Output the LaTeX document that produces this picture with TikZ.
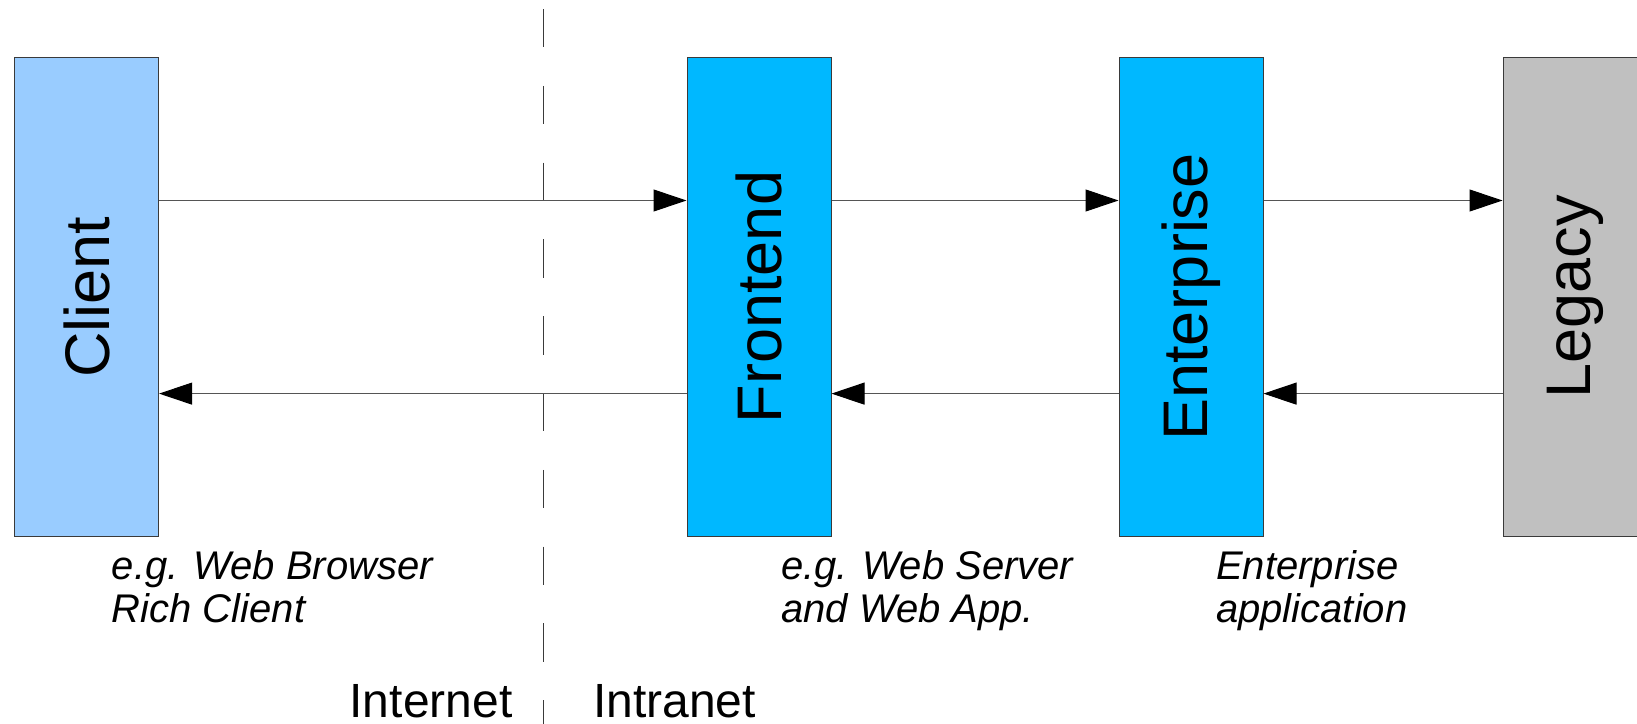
\documentclass[tikz,border=0pt]{standalone}
\usepackage{fontspec}
\setmainfont{Liberation Sans}
\usetikzlibrary{arrows.meta}
\definecolor{clientblue}{HTML}{99CCFF}
\definecolor{tierblue}{HTML}{00B8FF}
\definecolor{legacygray}{HTML}{C0C0C0}
\definecolor{edge}{HTML}{3A3A3A}
\definecolor{wire}{HTML}{555555}
\begin{document}
\begin{tikzpicture}[x=1pt,y=-1pt,
  tier/.style={draw=edge,line width=1pt,minimum width=144pt,minimum height=479pt,inner sep=0pt,anchor=center},
  tiername/.style={rotate=90,font=\fontsize{63}{63}\selectfont,inner sep=0pt},
  note/.style={font=\fontsize{40}{43}\selectfont\itshape,align=left,inner sep=0pt,anchor=base west},
  zone/.style={font=\fontsize{48}{48}\selectfont,inner sep=0pt},
  flow/.style={draw=wire,line width=1pt,-{Triangle[length=33pt,width=22pt,color=black]}},
  divider/.style={draw=edge,line width=1pt,dash pattern=on 38.4pt off 38.4pt}]
  \useasboundingbox (0,0) rectangle (1637,723);
  \clip (0,0) rectangle (1637,723);

  % network boundary
  \coordinate (splittop) at (543,9);
  \coordinate (splitbot) at (543,725);
  \draw[divider] (splittop) -- (splitbot);

  % tiers
  \node[tier,fill=clientblue] (client) at (86.6,297) {};
  \node[tier,fill=tierblue]   (front)  at (759,297) {};
  \node[tier,fill=tierblue]   (ent)    at (1191,297) {};
  \node[tier,fill=legacygray] (legacy) at (1575,297) {};

  \node[tiername] (clientname) at (client.center) {Client};
  \node[tiername] (frontname)  at (front.center)  {Frontend};
  \node[tiername] (entname)    at (ent.center)    {Enterprise};
  \node[tiername] (legacyname) at (legacy.center) {Legacy};

  % request / response rows
  \coordinate (req)  at (0,200.5);
  \coordinate (resp) at (0,393.6);
  \draw[flow] (client.east |- req)  -- (front.west |- req);
  \draw[flow] (front.east |- req)   -- (ent.west |- req);
  \draw[flow] (ent.east |- req)     -- (legacy.west |- req);
  \draw[flow] (legacy.west |- resp) -- (ent.east |- resp);
  \draw[flow] (ent.west |- resp)    -- (front.east |- resp);
  \draw[flow] (front.west |- resp)  -- (client.east |- resp);

  % notes (anchored on the baseline of their second line)
  \node[note] (clientnote) at (111.7,622) {e.g. Web Browser\\Rich Client};
  \node[note] (frontnote)  at (781,622)   {e.g. Web Server\\and Web App.};
  \node[note] (entnote)    at (1216,622)  {Enterprise\\application};

  % zones
  \node[zone,anchor=base east] (internet) at (512.6,717) {Internet};
  \node[zone,anchor=base west] (intranet) at (593,717)   {Intranet};
\end{tikzpicture}
\end{document}
